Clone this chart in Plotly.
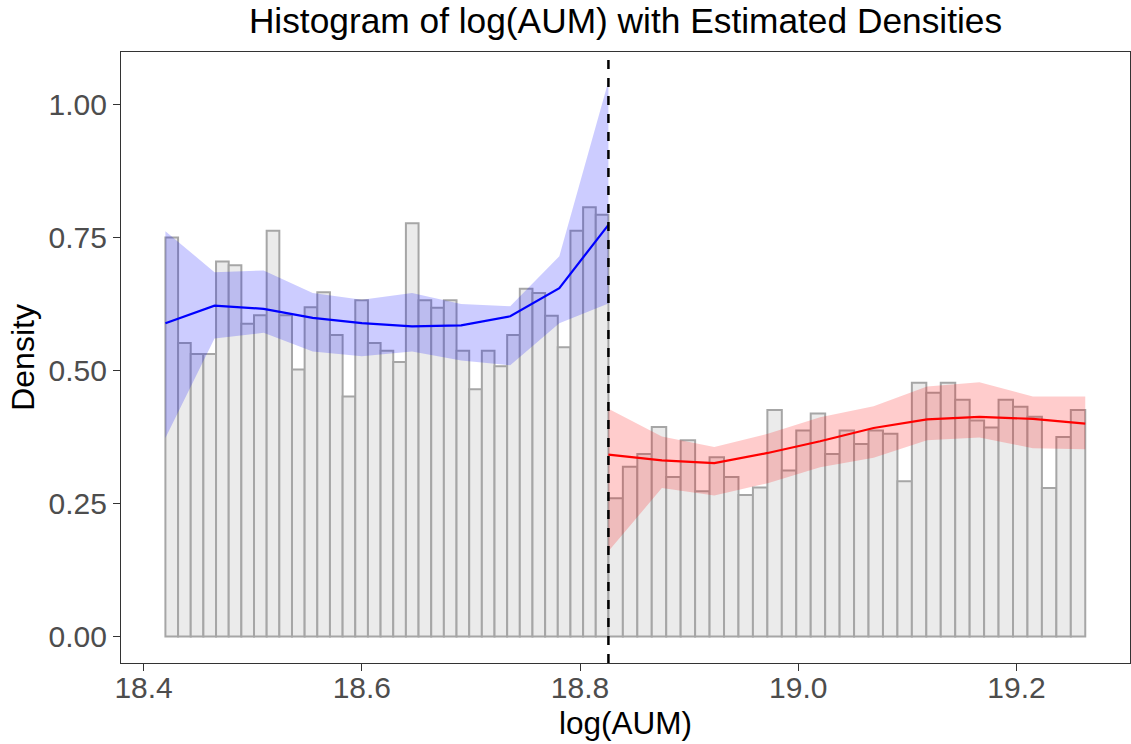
import numpy as np
import plotly.graph_objects as go

# ---------------- data ----------------
cutoff = 18.826
left_start = 18.420
right_end = 19.263

left_heights = [0.750, 0.552, 0.531, 0.531, 0.705, 0.698, 0.588, 0.604, 0.763, 0.604,
                0.502, 0.619, 0.647, 0.567, 0.451, 0.632, 0.552, 0.537, 0.516, 0.777,
                0.632, 0.618, 0.632, 0.537, 0.465, 0.537, 0.508, 0.567, 0.654, 0.646,
                0.603, 0.544, 0.763, 0.807, 0.793]
right_heights = [0.260, 0.319, 0.343, 0.394, 0.300, 0.369, 0.273, 0.337, 0.300, 0.266,
                 0.280, 0.426, 0.312, 0.387, 0.419, 0.343, 0.387, 0.362, 0.387, 0.381,
                 0.292, 0.477, 0.458, 0.477, 0.445, 0.406, 0.393, 0.445, 0.432, 0.413,
                 0.279, 0.375, 0.426]

left_x = [18.420, 18.465, 18.510, 18.555, 18.600, 18.646, 18.691, 18.736, 18.781, 18.826]
left_fit = [0.589, 0.622, 0.616, 0.599, 0.589, 0.583, 0.585, 0.602, 0.655, 0.774]
left_upper = [0.762, 0.685, 0.688, 0.646, 0.633, 0.646, 0.625, 0.621, 0.715, 1.044]
left_lower = [0.373, 0.560, 0.571, 0.536, 0.527, 0.536, 0.519, 0.510, 0.589, 0.626]

right_x = [18.826, 18.875, 18.923, 18.972, 19.020, 19.069, 19.118, 19.166, 19.215, 19.263]
right_fit = [0.342, 0.331, 0.326, 0.345, 0.367, 0.392, 0.408, 0.413, 0.409, 0.400]
right_upper = [0.428, 0.376, 0.356, 0.381, 0.412, 0.433, 0.470, 0.478, 0.451, 0.451]
right_lower = [0.160, 0.279, 0.265, 0.288, 0.318, 0.336, 0.369, 0.374, 0.354, 0.352]

y_ticks = [0.00, 0.25, 0.50, 0.75, 1.00]
x_ticks = [18.4, 18.6, 18.8, 19.0, 19.2]

# ---------------- bins ----------------
def bin_centers(start, end, n):
    edges = np.linspace(start, end, n + 1)
    return (edges[:-1] + edges[1:]) / 2, (end - start) / n

lc, lw = bin_centers(left_start, cutoff, len(left_heights))
rc, rw = bin_centers(cutoff, right_end, len(right_heights))

FONT = "Liberation Sans, Arial, sans-serif"
bar_fill = "#EBEBEB"
bar_line = "#A6A6A6"

fig = go.Figure()
for c, w, h in [(lc, lw, left_heights), (rc, rw, right_heights)]:
    fig.add_trace(go.Bar(x=c, y=h, width=w,
                         marker=dict(color=bar_fill, line=dict(color=bar_line, width=2)),
                         showlegend=False))

for xs, lo, up, fill in [(left_x, left_lower, left_upper, "rgba(0,0,255,0.2)"),
                         (right_x, right_lower, right_upper, "rgba(255,0,0,0.2)")]:
    fig.add_trace(go.Scatter(x=xs, y=lo, mode="lines", line=dict(width=0),
                             showlegend=False, hoverinfo="skip"))
    fig.add_trace(go.Scatter(x=xs, y=up, mode="lines", line=dict(width=0),
                             fill="tonexty", fillcolor=fill, showlegend=False,
                             hoverinfo="skip"))

fig.add_trace(go.Scatter(x=left_x, y=left_fit, mode="lines",
                         line=dict(color="blue", width=2.2), showlegend=False))
fig.add_trace(go.Scatter(x=right_x, y=right_fit, mode="lines",
                         line=dict(color="red", width=2.2), showlegend=False))

fig.add_shape(type="line", x0=cutoff, x1=cutoff, xref="x", yref="paper", y0=0, y1=1,
              line=dict(color="black", width=2.5, dash="dash"), layer="above")

axis_common = dict(showgrid=False, zeroline=False, showline=True, mirror=True,
                   linecolor="#333333", linewidth=1.2, ticks="outside", ticklen=7,
                   tickwidth=1.2, tickcolor="#333333",
                   tickfont=dict(family=FONT, size=30, color="#4D4D4D"))

fig.update_layout(
    width=1131, height=744,
    margin=dict(l=121, r=1, t=52, b=81),
    paper_bgcolor="white", plot_bgcolor="white",
    barmode="overlay",
    xaxis=dict(range=[18.3793, 19.304], tickvals=x_ticks, tickformat=".1f",
               ticklabelstandoff=-9, **axis_common),
    yaxis=dict(range=[-0.05, 1.099], tickvals=y_ticks, tickformat=".2f", **axis_common),
    title=dict(text="Histogram of log(AUM) with Estimated Densities",
               font=dict(family=FONT, size=35.3, color="black"),
               xref="paper", x=0.5, xanchor="center",
               yref="container", y=1 - 21 / 744, yanchor="middle"),
    annotations=[
        dict(text="log(AUM)", xref="paper", yref="paper", x=0.5, y=-0.099,
             xanchor="center", yanchor="middle", showarrow=False,
             font=dict(family=FONT, size=31.5, color="black")),
        dict(text="Density", xref="paper", yref="paper", x=-0.0978, y=0.5,
             xanchor="center", yanchor="middle", textangle=-90, showarrow=False,
             font=dict(family=FONT, size=32, color="black")),
    ],
)

fig.write_html("out.html")
